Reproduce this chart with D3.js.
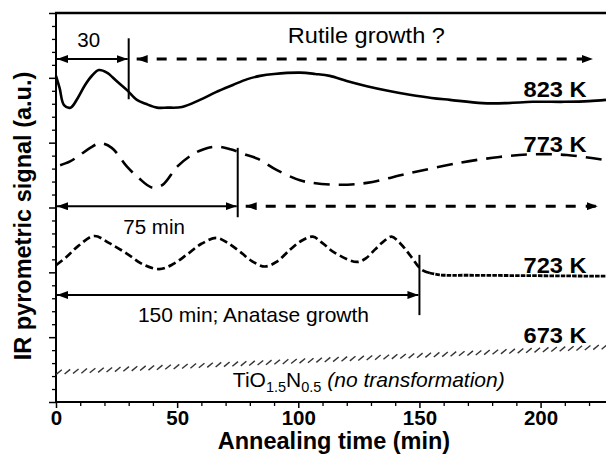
<!DOCTYPE html>
<html>
<head>
<meta charset="utf-8">
<script src="https://cdn.jsdelivr.net/npm/d3@7"></script>
<style>
  html, body { margin: 0; padding: 0; background: #fff; }
  svg { display: block; font-family: "Liberation Sans", Arial, Helvetica, sans-serif; }
</style>
</head>
<body>
<svg id="chart" width="606" height="461"></svg>
<script>
// IR pyrometric signal recorded while annealing TiO1.5N0.5 films at four temperatures.

// x-axis tick labels (min)
const xTicks = [0, 50, 100, 150, 200];

// [time (min), signal (a.u.)] for each annealing temperature
const series823 = [
  [0, 5.03], [1.5, 4.84], [3.3, 4.58], [6, 4.54], [9, 4.69], [12, 4.89], [15, 5.04],
  [17.7, 5.12], [21, 5.08], [25, 4.95], [29.3, 4.81], [33.4, 4.66], [37, 4.60],
  [41.7, 4.54], [46, 4.54], [52, 4.55], [59.4, 4.66], [66, 4.78], [73, 4.89],
  [79, 4.98], [84.2, 5.03], [90, 5.06], [100.7, 5.08], [107, 5.06], [113, 5.03],
  [120, 4.95], [128.3, 4.87], [137, 4.80], [146, 4.74], [155, 4.69], [162.6, 4.66],
  [176, 4.61], [186, 4.61], [196.8, 4.63], [210, 4.63], [220, 4.64], [227, 4.66]
];
const series773 = [
  [1.7, 3.65], [5.8, 3.71], [9.9, 3.81], [14.1, 3.92], [18.2, 3.99], [23, 3.92],
  [29.3, 3.63], [34, 3.46], [39.5, 3.31], [44, 3.35], [50, 3.63], [56, 3.81],
  [61, 3.90], [66.3, 3.94], [72, 3.90], [78.7, 3.81], [83.4, 3.75], [91, 3.58],
  [100.7, 3.42], [106, 3.38], [117.2, 3.35], [128.3, 3.38], [146, 3.53],
  [166.7, 3.69], [183, 3.78], [196.8, 3.82], [210.8, 3.81], [227, 3.73]
];
const series723 = [
  [0, 2.11], [4.4, 2.24], [9, 2.40], [15.8, 2.56], [22, 2.45], [29.2, 2.29],
  [36, 2.12], [42.6, 2.05], [48, 2.12], [53.9, 2.27], [60, 2.44], [66.3, 2.53],
  [71, 2.45], [75.9, 2.32], [81, 2.17], [86.2, 2.09], [91, 2.16], [96.6, 2.35],
  [101, 2.48], [106, 2.55], [110, 2.45], [115.1, 2.30], [124.2, 2.16], [128, 2.22],
  [131.6, 2.35], [135, 2.47], [138.5, 2.55], [142, 2.45], [146, 2.27], [150.9, 2.04],
  [154.3, 1.99], [158.4, 1.96], [170, 1.955], [190, 1.95], [210, 1.945], [227, 1.94]
];
const series673 = [[0, 0.46], [227, 0.85]];

// end of the anatase oscillations at 723 K (min)
const transition723 = 154.3;

// temperature labels: [text, signal level of baseline]
const tempLabels = [["823 K", 4.70], ["773 K", 3.86], ["723 K", 1.99], ["673 K", 0.91]];

// measured intervals: [length (min), arrow level, bracket top, bracket bottom]
const intervals = [
  [30, 5.29, 5.61, 4.67],
  [75, 3.02, 3.92, 2.85],
  [150, 1.65, 2.27, 1.34]
];
// open-ended growth arrows: [start (min), end (min), level]
const growthArrows = [
  [33.3, 221.6, 5.29],
  [78.3, 223.6, 3.02]
];

const svg = d3.select("#chart");
const W = 606, H = 461;

const x = d3.scaleLinear().domain([0, 227]).range([56, 606]);
const y = d3.scaleLinear().domain([0, 6]).range([402, 13]);

// arrowhead marker
const defs = svg.append("defs");
defs.append("marker")
  .attr("id", "head")
  .attr("viewBox", "0 0 11 8")
  .attr("refX", 11).attr("refY", 4)
  .attr("markerWidth", 11).attr("markerHeight", 8)
  .attr("markerUnits", "userSpaceOnUse")
  .attr("orient", "auto-start-reverse")
  .append("path").attr("d", "M0,0 L11,4 L0,8 Z").attr("fill", "#000");

// axes
const yMinor = d3.range(0, 6.001, 0.2).filter(v => Math.abs(v - Math.round(v)) > 1e-6);
svg.append("g").attr("transform", `translate(${x(0)},0)`)
  .call(d3.axisLeft(y).tickValues(yMinor).tickSize(4).tickFormat(""))
  .call(g => g.select(".domain").remove())
  .call(g => g.selectAll("line").attr("stroke", "#000").attr("stroke-width", 1.3));
svg.append("g").attr("transform", `translate(${x(0)},0)`)
  .call(d3.axisLeft(y).tickValues(d3.range(0, 7)).tickSize(7).tickFormat(""))
  .call(g => g.select(".domain").remove())
  .call(g => g.selectAll("line").attr("stroke", "#000").attr("stroke-width", 1.5));

const xMinor = d3.range(10, 227, 10).filter(v => v % 50 !== 0);
svg.append("g").attr("transform", `translate(0,${y(0)})`)
  .call(d3.axisBottom(x).tickValues(xMinor).tickSize(4).tickFormat(""))
  .call(g => g.select(".domain").remove())
  .call(g => g.selectAll("line").attr("stroke", "#000").attr("stroke-width", 1.3));
svg.append("g").attr("transform", `translate(0,${y(0)})`)
  .call(d3.axisBottom(x).tickValues(xTicks).tickSize(6).tickFormat(d3.format("d")))
  .call(g => g.select(".domain").remove())
  .call(g => g.selectAll("line").attr("stroke", "#000").attr("stroke-width", 1.5))
  .call(g => g.selectAll("text")
    .attr("y", 23).attr("dy", 0)
    .attr("fill", "#000")
    .attr("font-family", "Liberation Sans, Arial, sans-serif")
    .attr("font-size", 20.5).attr("font-weight", "bold"));

// frame lines: left, bottom, top
svg.append("line").attr("x1", x(0)).attr("x2", x(0)).attr("y1", y(6) - 1).attr("y2", y(0) + 1)
  .attr("stroke", "#000").attr("stroke-width", 2);
svg.append("line").attr("x1", x(0) - 1).attr("x2", W).attr("y1", y(0)).attr("y2", y(0))
  .attr("stroke", "#000").attr("stroke-width", 2);
svg.append("line").attr("x1", x(0) - 1).attr("x2", W).attr("y1", y(6)).attr("y2", y(6))
  .attr("stroke", "#000").attr("stroke-width", 2.5);

// axis titles
svg.append("text")
  .attr("x", 334).attr("y", 449)
  .attr("text-anchor", "middle")
  .attr("font-size", 23.5).attr("font-weight", "bold")
  .text("Annealing time (min)");
svg.append("text")
  .attr("transform", "translate(31,216) rotate(-90)")
  .attr("text-anchor", "middle")
  .attr("font-size", 23.5).attr("font-weight", "bold")
  .text("IR pyrometric signal (a.u.)");

// signal curves
const line = d3.line().x(d => x(d[0])).y(d => y(d[1])).curve(d3.curveCatmullRom.alpha(0.5));
const plot = svg.append("g").attr("fill", "none").attr("stroke", "#000").attr("stroke-linecap", "butt");

plot.append("path").attr("d", line(series823)).attr("stroke-width", 2.6).attr("stroke-linejoin", "round");
plot.append("path").attr("d", line(series773)).attr("stroke-width", 2.6).attr("stroke-dasharray", "16,9");
plot.append("path").attr("d", line(series723.filter(d => d[0] <= transition723)))
  .attr("stroke-width", 2.7).attr("stroke-dasharray", "8,4");
plot.append("path").attr("d", line(series723.filter(d => d[0] >= transition723)))
  .attr("stroke-width", 2.8).attr("stroke-dasharray", "4.5,1.2");

// 673 K: hatched trace
const guide = plot.append("path").attr("d", line(series673)).attr("stroke", "none");
const len = guide.node().getTotalLength();
const hatch = svg.append("g").attr("stroke", "#333").attr("stroke-width", 1.4);
for (let s = 3; s <= len; s += 8.4) {
  const p = guide.node().getPointAtLength(s);
  hatch.append("line")
    .attr("x1", p.x - 2.8).attr("y1", p.y + 2.3)
    .attr("x2", p.x + 2.8).attr("y2", p.y - 2.3);
}

// interval brackets with double arrows
const ann = svg.append("g").attr("stroke", "#000").attr("fill", "none");
intervals.forEach(([t, lvl, top, bot]) => {
  ann.append("line")
    .attr("x1", x(t)).attr("x2", x(t)).attr("y1", y(top)).attr("y2", y(bot))
    .attr("stroke-width", 2);
  ann.append("line")
    .attr("x1", x(0) + 1).attr("x2", x(t) - 1).attr("y1", y(lvl)).attr("y2", y(lvl))
    .attr("stroke-width", 2)
    .attr("marker-start", "url(#head)").attr("marker-end", "url(#head)");
});
growthArrows.forEach(([a, b, lvl]) => {
  ann.append("line")
    .attr("x1", x(a)).attr("x2", x(b)).attr("y1", y(lvl)).attr("y2", y(lvl))
    .attr("stroke-width", 3).attr("stroke-dasharray", "10,10")
    .attr("marker-start", "url(#head)").attr("marker-end", "url(#head)");
});

// annotation texts
const note = (t, v, txt, size, fit) => {
  const el = svg.append("text").attr("x", x(t)).attr("y", y(v))
    .attr("text-anchor", "middle").attr("font-size", size).text(txt);
  if (fit) el.attr("textLength", fit).attr("lengthAdjust", "spacingAndGlyphs");
  return el;
};
note(13.5, 5.47, "30", 20.5);
note(128.1, 5.54, "Rutile growth ?", 21.5, 157);
note(40.5, 2.59, "75 min", 20.5);
note(81.5, 1.23, "150 min; Anatase growth", 21);

// temperature labels
tempLabels.forEach(([txt, v]) => {
  svg.append("text")
    .attr("x", x(219)).attr("y", y(v))
    .attr("text-anchor", "end")
    .attr("font-size", 22).attr("font-weight", "bold")
    .attr("textLength", 63).attr("lengthAdjust", "spacingAndGlyphs")
    .text(txt);
});

// composition label
const comp = svg.append("text").attr("x", x(73)).attr("y", y(0.23)).attr("font-size", 21);
comp.append("tspan").text("TiO");
comp.append("tspan").attr("dy", 5).attr("font-size", 14.5).text("1.5");
comp.append("tspan").attr("dy", -5).text("N");
comp.append("tspan").attr("dy", 5).attr("font-size", 14.5).text("0.5");
comp.append("tspan").attr("dy", -5).attr("font-style", "italic").text(" (no transformation)");
</script>
</body>
</html>
